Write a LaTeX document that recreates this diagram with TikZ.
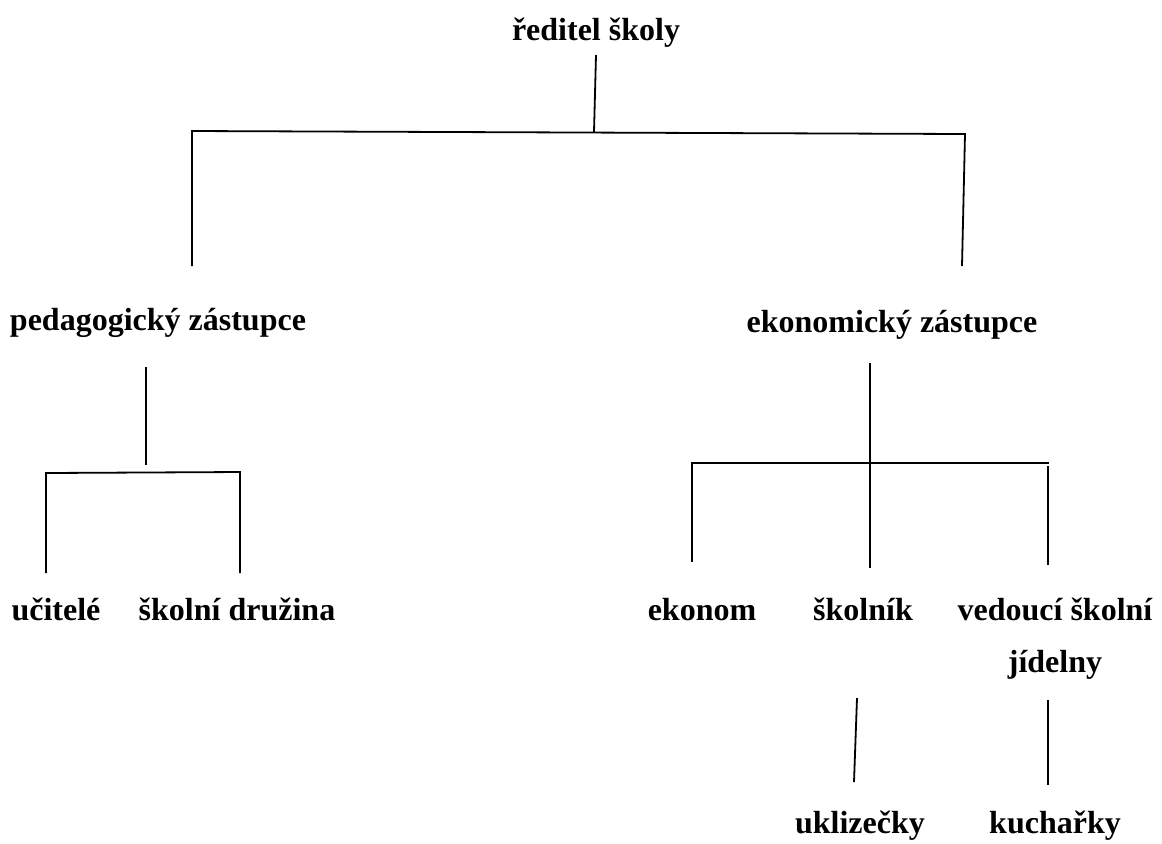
\documentclass[tikz,border=0pt]{standalone}
\usepackage{fontspec}
\setmainfont{Liberation Serif}
\begin{document}
\begin{tikzpicture}[
        x=0.5pt, y=-0.5pt,
        title/.style={font=\fontsize{16}{26}\selectfont\bfseries, anchor=base, inner sep=0pt, align=center},
        line/.style={line width=0.9pt}
    ]
    \useasboundingbox (0,0) rectangle (1162,843);

    \node[title] (reditel) at (596,40) {ředitel školy};
    \node[title] (pedzast) at (158,330) {pedagogický zástupce};
    \node[title] (ekozast) at (892,332) {ekonomický zástupce};
    \node[title] (ucitele) at (56,620) {učitelé};
    \node[title] (druzina) at (237,620) {školní družina};
    \node[title] (ekonom) at (702,620) {ekonom};
    \node[title] (skolnik) at (863,620) {školník};
    \node[title] (jidelna) at (1055,672) {vedoucí školní\\jídelny};
    \node[title] (uklizecky) at (860,833) {uklizečky};
    \node[title] (kucharky) at (1055,833) {kuchařky};

    \coordinate (r1) at (596,55);
    \coordinate (r2) at (594,132);
    \coordinate (rl) at (192,131);
    \coordinate (rr) at (965,134);
    \coordinate (pl) at (192,266);
    \coordinate (ez) at (962,266);
    \draw[line] (r1) -- (r2);
    \draw[line] (pl) -- (rl) -- (rr) -- (ez);

    \coordinate (p1) at (146,367);
    \coordinate (p2) at (146,465);
    \coordinate (ul) at (46,473);
    \coordinate (ur) at (240,472);
    \coordinate (u1) at (46,573);
    \coordinate (d1) at (240,573);
    \draw[line] (p1) -- (p2);
    \draw[line] (u1) -- (ul) -- (ur) -- (d1);

    \coordinate (e1) at (870,363);
    \coordinate (s1) at (870,568);
    \coordinate (el) at (692,463);
    \coordinate (er) at (1049,463);
    \coordinate (k1) at (692,562);
    \coordinate (j0) at (1048,466);
    \coordinate (j1) at (1048,565);
    \draw[line] (e1) -- (s1);
    \draw[line] (k1) -- (el) -- (er);
    \draw[line] (j0) -- (j1);

    \coordinate (s2) at (857,698);
    \coordinate (u2) at (854,782);
    \coordinate (j2) at (1048,700);
    \coordinate (k2) at (1048,785);
    \draw[line] (s2) -- (u2);
    \draw[line] (j2) -- (k2);
\end{tikzpicture}
\end{document}
